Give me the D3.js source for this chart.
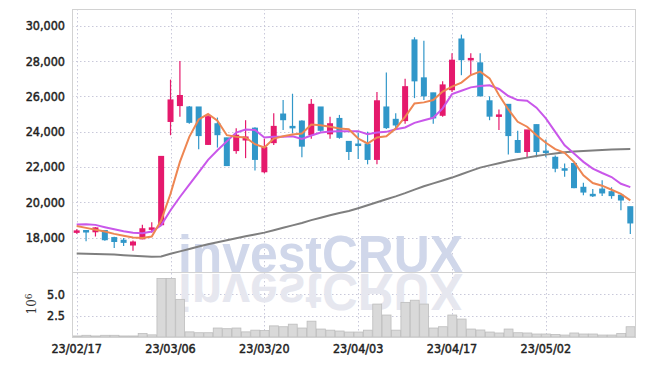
<!DOCTYPE html>
<html>
<head>
<meta charset="utf-8">
<script src="https://cdn.jsdelivr.net/npm/d3@7"></script>
<style>
  body { margin: 0; background: #fff; }
  text { font-family: "DejaVu Sans Condensed", "DejaVu Sans", sans-serif; }
</style>
</head>
<body>
<script>
// trading days shown on the chart
const dates = ["23/02/17","23/02/20","23/02/21","23/02/22","23/02/23","23/02/24","23/02/27","23/02/28","23/03/02","23/03/03",
  "23/03/06","23/03/07","23/03/08","23/03/09","23/03/10","23/03/13","23/03/14","23/03/15","23/03/16","23/03/17",
  "23/03/20","23/03/21","23/03/22","23/03/23","23/03/24","23/03/27","23/03/28","23/03/29","23/03/30","23/03/31",
  "23/04/03","23/04/04","23/04/05","23/04/06","23/04/07","23/04/10","23/04/11","23/04/12","23/04/13","23/04/14",
  "23/04/17","23/04/18","23/04/19","23/04/20","23/04/21","23/04/24","23/04/25","23/04/26","23/04/27","23/04/28",
  "23/05/02","23/05/03","23/05/04","23/05/08","23/05/09","23/05/10","23/05/11","23/05/12","23/05/15","23/05/16"];

const opens = [18330,18400,18300,18400,18000,17850,17550,17900,18500,18700,
  24550,25450,25400,25400,23250,24450,23650,22900,23500,24200,
  21700,23350,25000,24300,24600,23800,25400,23850,24750,23450,
  23300,23300,22400,25400,24700,24600,29200,27050,26200,24900,
  26350,29250,28050,27900,25750,24900,25550,23500,22850,24400,
  22900,22550,21900,22200,20850,20450,20750,20600,20400,19750];
const highs = [18470,18420,18590,18420,18050,17980,17830,18720,18870,22600,
  26950,28000,25450,25400,24950,24800,23650,24200,24650,24250,
  23600,25050,25800,26150,24650,25850,25400,24850,24950,23450,
  23950,24000,26250,27350,25050,27000,29350,29150,26200,26850,
  28450,29500,28450,28450,26000,25250,25550,24050,24100,24400,
  23550,22650,22200,22200,21100,20750,21250,20850,20400,19750];
const lows = [18210,17790,18060,17820,17410,17530,17260,17900,18270,18700,
  23800,24850,24450,23000,23250,23100,22050,22750,22500,21800,
  21650,23250,24100,23900,22550,23600,24000,23600,23600,22400,
  22450,22150,22150,24150,24100,24450,25900,25800,24450,24850,
  26250,27200,27200,26000,24650,24100,22700,22800,22550,22550,
  22550,21700,21450,20800,20400,20300,20350,20200,19550,18200];
const closes = [18380,18350,18550,17850,17750,17700,17750,18500,18550,22600,
  25800,26050,24500,23750,24850,23800,22050,23800,23700,22400,
  23100,24300,24650,24250,23150,25550,24050,24450,23650,22850,
  23250,22400,25750,24200,24350,26550,26850,26000,24750,26650,
  28050,28050,28150,26000,24850,24950,23750,22800,24100,22850,
  22850,21900,21850,20800,20550,20400,20500,20350,20100,18800];

// volume, millions of shares
const volume = [0.12,0.2,0.12,0.2,0.2,0.12,0.12,0.4,0.25,6.85,
  6.85,4.4,0.6,0.5,0.5,1.05,0.97,1.05,0.6,0.8,
  0.75,1.3,1.2,1.5,1.05,1.85,0.93,0.8,0.7,0.58,
  0.58,0.8,3.85,2.57,0.8,4.05,4.3,3.85,1.05,1.2,
  2.57,2.1,0.93,0.82,0.58,0.47,0.93,0.5,0.47,0.35,
  0.35,0.3,0.23,0.47,0.35,0.35,0.23,0.23,0.4,1.2];

// moving average lines
const ma5 = [18660,18550,18440,18340,18210,18100,18000,17980,18060,18970,
  20480,22290,23710,24690,25000,24620,23800,23710,23670,23290,
  23100,23610,23740,23840,23900,24410,24370,24280,24180,24140,
  23610,23330,23670,23740,24180,24840,25600,25660,25790,26270,
  26550,26780,27210,27400,27020,26080,25260,24560,24280,23800,
  23370,23010,22800,22290,21530,21090,20940,20710,20480,20110];
const ma10 = [18740,18760,18720,18590,18470,18360,18270,18250,18340,18700,
  19550,20300,21000,21700,22400,22950,23450,23950,24120,24090,
  23670,23710,23710,23740,23590,23780,23950,24010,24030,24030,
  24030,23860,23950,23990,24140,24240,24500,24650,24790,25320,
  26130,26320,26510,26590,26630,26420,26020,25790,25750,25360,
  24750,23990,23230,22760,22290,21910,21660,21430,21050,20860];
const maLong = [17100,17090,17075,17055,17035,17005,16975,16945,16920,16930,
  17080,17220,17350,17490,17620,17740,17850,17960,18070,18180,
  18280,18420,18555,18690,18830,18990,19125,19260,19395,19505,
  19665,19835,20000,20170,20335,20520,20720,20905,21070,21230,
  21400,21590,21780,21965,22090,22210,22335,22435,22530,22625,
  22700,22770,22835,22880,22910,22940,22965,22985,23005,23020];

const priceTicks = [18000, 20000, 22000, 24000, 26000, 28000, 30000];
const volTicks = [2.5, 5.0];
const dateTicks = ["23/02/17","23/03/06","23/03/20","23/04/03","23/04/17","23/05/02"];

const width = 645, height = 366;
const margin = { left: 72, right: 635, top: 9, split: 272, bottom: 337 };

const svg = d3.select('body')
  .append('svg')
  .attr('width', width)
  .attr('height', height);

const x = d3.scaleBand()
  .domain(dates)
  .range([margin.left, margin.right])
  .padding(0);

const y = d3.scaleLinear()
  .domain([16050, 30950])
  .range([margin.split, margin.top]);

const yv = d3.scaleLinear()
  .domain([0, 7.6])
  .range([margin.bottom, margin.split]);

const cx = d => x(d) + x.bandwidth() / 2;
const gridColor = "#c9c9da";

// grids
const grid = svg.append("g");
grid.selectAll("line.hp")
  .data(priceTicks)
  .enter()
  .append("line")
  .attr("x1", margin.left).attr("x2", margin.right)
  .attr("y1", d => Math.round(y(d)) + 0.5).attr("y2", d => Math.round(y(d)) + 0.5)
  .attr("stroke", gridColor)
  .attr("stroke-dasharray", "1.5,2.5");
grid.selectAll("line.hv")
  .data(volTicks)
  .enter()
  .append("line")
  .attr("x1", margin.left).attr("x2", margin.right)
  .attr("y1", d => Math.round(yv(d)) + 0.5).attr("y2", d => Math.round(yv(d)) + 0.5)
  .attr("stroke", gridColor)
  .attr("stroke-dasharray", "1.5,2.5");
grid.selectAll("line.v")
  .data(dateTicks)
  .enter()
  .append("line")
  .attr("x1", d => Math.round(cx(d)) + 0.5).attr("x2", d => Math.round(cx(d)) + 0.5)
  .attr("y1", margin.top).attr("y2", margin.bottom)
  .attr("stroke", gridColor)
  .attr("stroke-dasharray", "1.5,2.5");

// watermark and its reflection
svg.append("defs").append("clipPath").attr("id", "volclip")
  .append("rect")
  .attr("x", margin.left).attr("y", margin.split + 1)
  .attr("width", margin.right - margin.left).attr("height", margin.bottom - margin.split - 1);

svg.append("text")
  .attr("x", 178).attr("y", margin.split)
  .attr("textLength", 285).attr("lengthAdjust", "spacingAndGlyphs")
  .style("font-family", "'Liberation Sans', Arial, sans-serif")
  .style("font-weight", "bold")
  .style("font-size", "51px")
  .attr("fill", "#d0d7ea")
  .text("investCRUX");

svg.append("g").attr("clip-path", "url(#volclip)")
  .append("text")
  .attr("transform", `translate(0,${margin.split * 2 + 2}) scale(1,-1)`)
  .attr("x", 178).attr("y", margin.split)
  .attr("textLength", 285).attr("lengthAdjust", "spacingAndGlyphs")
  .style("font-family", "'Liberation Sans', Arial, sans-serif")
  .style("font-weight", "bold")
  .style("font-size", "51px")
  .attr("fill", "#e6e7ef")
  .text("investCRUX");

// volume bars
svg.selectAll("rect.vol")
  .data(dates)
  .enter()
  .append("rect")
  .attr("x", d => x(d) + 0.5)
  .attr("y", (d, i) => yv(volume[i]))
  .attr("width", x.bandwidth() - 0.5)
  .attr("height", (d, i) => margin.bottom - yv(volume[i]))
  .attr("fill", "#d9d9d9")
  .attr("stroke", "#bdbdbd")
  .attr("stroke-width", 0.8);

// frame
svg.append("rect")
  .attr("x", margin.left + 0.5).attr("y", margin.top + 0.5)
  .attr("width", margin.right - margin.left).attr("height", margin.bottom - margin.top)
  .attr("fill", "none")
  .attr("stroke", "#d2d2d2");
svg.append("line")
  .attr("x1", margin.left).attr("x2", margin.right)
  .attr("y1", margin.split + 0.5).attr("y2", margin.split + 0.5)
  .attr("stroke", "#d2d2d2");

// candles
const up = "#e5196c", down = "#3197c9";
const color = i => closes[i] >= opens[i] ? up : down;
const boxW = 6;

const candles = svg.selectAll("g.candle")
  .data(dates)
  .enter()
  .append("g");

candles.append("line")
  .attr("x1", d => cx(d)).attr("x2", d => cx(d))
  .attr("y1", (d, i) => y(highs[i]))
  .attr("y2", (d, i) => y(lows[i]))
  .attr("stroke", (d, i) => color(i))
  .attr("stroke-width", 1.2);

candles.append("rect")
  .attr("x", d => cx(d) - boxW / 2)
  .attr("y", (d, i) => y(Math.max(opens[i], closes[i])) - 0.5)
  .attr("width", boxW)
  .attr("height", (d, i) => Math.max(2, Math.abs(y(opens[i]) - y(closes[i]))) + 0.5)
  .attr("fill", (d, i) => color(i));

// moving averages
const maLine = arr => d3.line()
  .x((d, i) => cx(dates[i]))
  .y(d => y(d))(arr);

svg.append("path")
  .attr("d", maLine(maLong))
  .attr("fill", "none")
  .attr("stroke", "#7f7f7f")
  .attr("stroke-width", 2);

svg.append("path")
  .attr("d", maLine(ma10))
  .attr("fill", "none")
  .attr("stroke", "#c957ea")
  .attr("stroke-width", 2);

svg.append("path")
  .attr("d", maLine(ma5))
  .attr("fill", "none")
  .attr("stroke", "#ee8652")
  .attr("stroke-width", 2);

// axes labels
svg.selectAll("text.py")
  .data(priceTicks)
  .enter()
  .append("text")
  .attr("x", 65)
  .attr("y", d => y(d))
  .attr("dy", "0.36em")
  .attr("text-anchor", "end")
  .style("font-size", "12.5px")
  .attr("fill", "#222")
  .attr("stroke", "#222").attr("stroke-width", 0.45)
  .text(d => d3.format(",")(d));

svg.selectAll("text.vy")
  .data(volTicks)
  .enter()
  .append("text")
  .attr("x", 65)
  .attr("y", d => yv(d))
  .attr("dy", "0.36em")
  .attr("text-anchor", "end")
  .style("font-size", "12.5px")
  .attr("fill", "#222")
  .attr("stroke", "#222").attr("stroke-width", 0.45)
  .text(d => d3.format(".1f")(d));

const unit = svg.append("text")
  .attr("transform", "translate(36,304) rotate(-90)")
  .attr("text-anchor", "middle")
  .style("font-family", "'DejaVu Serif', serif")
  .style("font-size", "12px")
  .attr("fill", "#333");
unit.append("tspan").text("10");
unit.append("tspan").attr("dy", "-0.45em").style("font-size", "9px").text("6");

svg.selectAll("text.dx")
  .data(dateTicks)
  .enter()
  .append("text")
  .attr("x", d => cx(d))
  .attr("y", 353)
  .attr("text-anchor", "middle")
  .style("font-size", "12.5px")
  .attr("fill", "#222")
  .attr("stroke", "#222").attr("stroke-width", 0.45)
  .text(d => d);
</script>
</body>
</html>
